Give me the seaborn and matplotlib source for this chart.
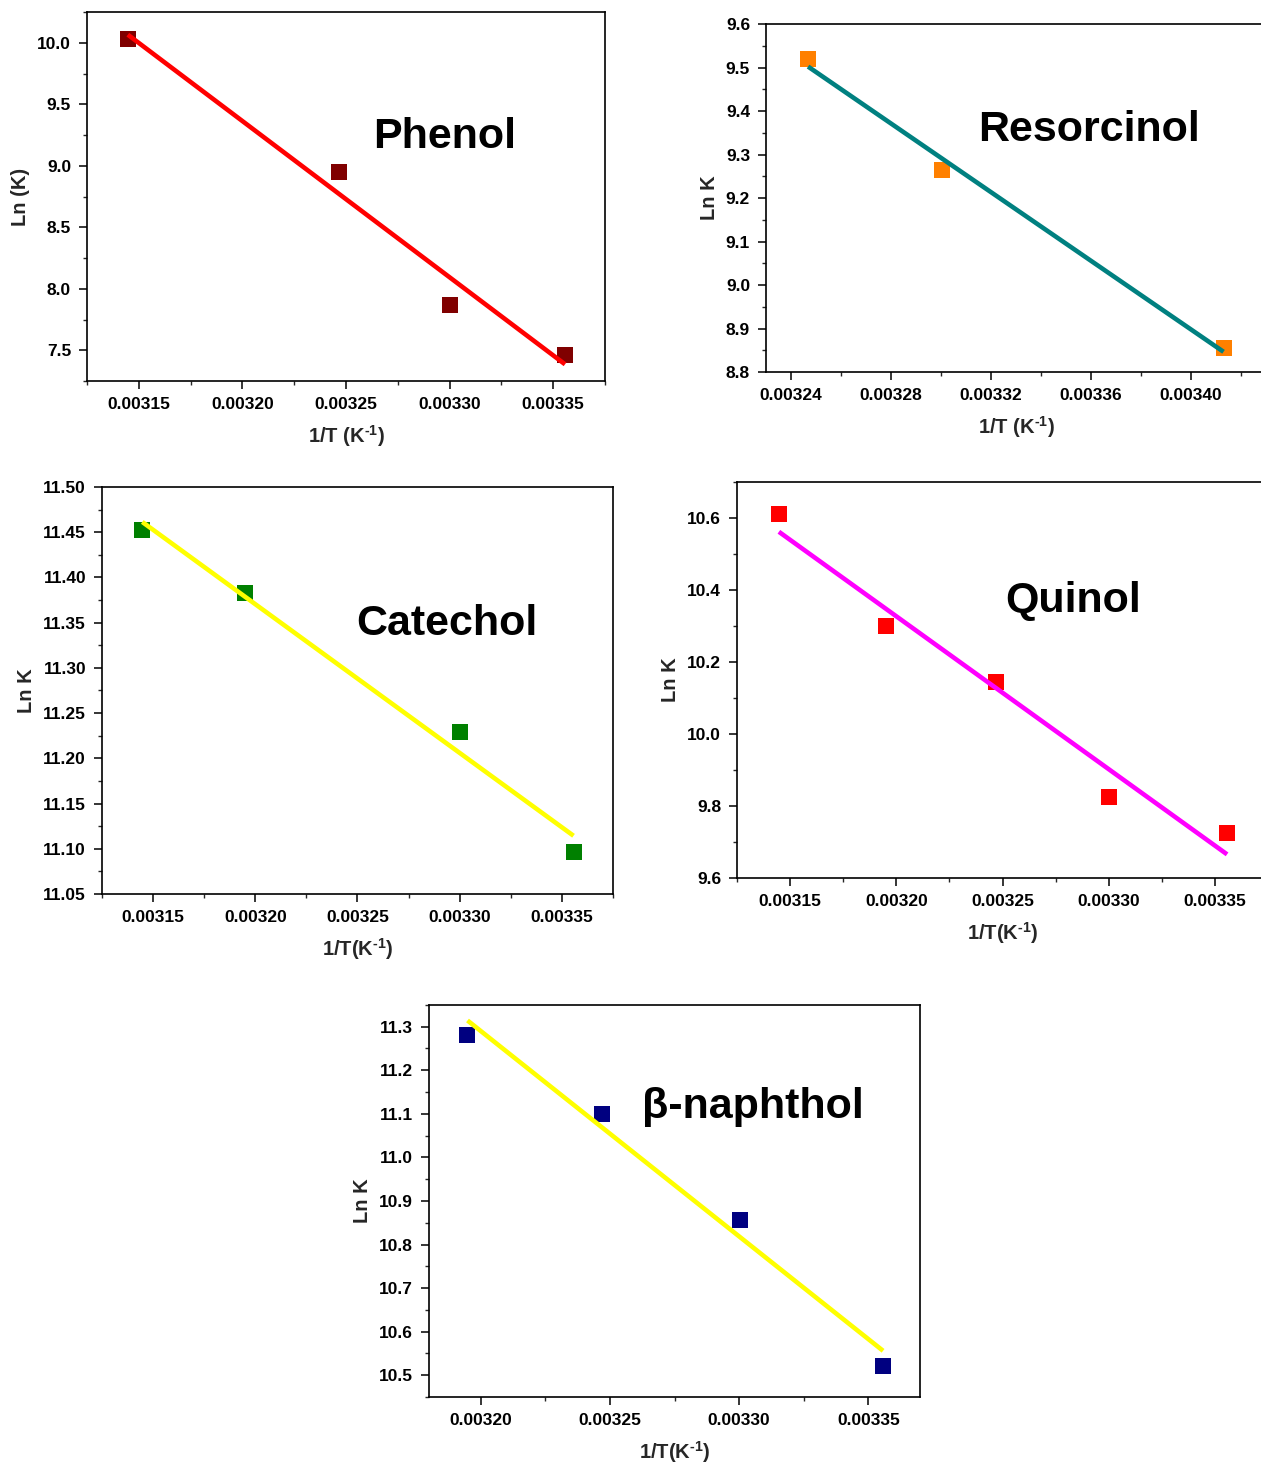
import numpy as np
import pandas as pd
import matplotlib
matplotlib.use("Agg")
import matplotlib.pyplot as plt
import seaborn as sns
from matplotlib.ticker import MultipleLocator, FormatStrFormatter

# ---------------- data (1/T in K^-1, ln K) ----------------
phenol_x = [0.0031447, 0.0032468, 0.0033003, 0.0033557]
phenol_y = [10.03, 8.95, 7.87, 7.46]

resorcinol_x = [0.0032468, 0.0033003, 0.0034130]
resorcinol_y = [9.52, 9.265, 8.855]

catechol_x = [0.0031447, 0.0031949, 0.0033003, 0.0033557]
catechol_y = [11.452, 11.383, 11.229, 11.096]

quinol_x = [0.0031447, 0.0031949, 0.0032468, 0.0033003, 0.0033557]
quinol_y = [10.61, 10.30, 10.145, 9.825, 9.725]

naphthol_x = [0.0031949, 0.0032468, 0.0033003, 0.0033557]
naphthol_y = [11.28, 11.10, 10.857, 10.52]

names = ["Phenol", "Resorcinol", "Catechol", "Quinol", "β-naphthol"]

# ---------------- style ----------------
sns.set_theme(style="ticks")
plt.rcParams["font.family"] = ["Liberation Sans", "DejaVu Sans"]
plt.rcParams["font.weight"] = "bold"
plt.rcParams["axes.labelweight"] = "bold"
plt.rcParams["mathtext.fontset"] = "custom"
plt.rcParams["mathtext.rm"] = "Liberation Sans:bold"
plt.rcParams["mathtext.it"] = "Liberation Sans:bold"
plt.rcParams["mathtext.bf"] = "Liberation Sans:bold"
plt.rcParams["mathtext.default"] = "rm"

fig = plt.figure(figsize=(12.61, 14.66), dpi=100)

xl_a = "1/T (K$^{\\text{-}1}$)"
xl_b = "1/T(K$^{\\text{-}1}$)"

panels = [
    dict(x=phenol_x, y=phenol_y, name=names[0],
         rect=[0.0690, 0.7401, 0.4108, 0.2517],
         mcol="#800000", lcol="#FF0000",
         xlim=(0.003125, 0.003375), xmaj=0.00005, xmin=0.000025, xfmt="%.5f",
         ylim=(7.25, 10.25), ymaj=0.5, ymin=0.25, yfmt="%.1f",
         ylabel="Ln (K)", xlabel=xl_a, txt=(0.552, 0.661)),
    dict(x=resorcinol_x, y=resorcinol_y, name=names[1],
         rect=[0.6075, 0.7462, 0.3965, 0.2374],
         mcol="#FF8000", lcol="#008080",
         xlim=(0.00323, 0.00343), xmaj=0.00004, xmin=0.00002, xfmt="%.5f",
         ylim=(8.8, 9.6), ymaj=0.1, ymin=0.05, yfmt="%.1f",
         ylabel="Ln K", xlabel=xl_a, txt=(0.424, 0.695)),
    dict(x=catechol_x, y=catechol_y, name=names[2],
         rect=[0.0809, 0.3902, 0.4052, 0.2776],
         mcol="#008000", lcol="#FFFF00",
         xlim=(0.003125, 0.003375), xmaj=0.00005, xmin=0.000025, xfmt="%.5f",
         ylim=(11.05, 11.50), ymaj=0.05, ymin=0.025, yfmt="%.2f",
         ylabel="Ln K", xlabel=xl_b, txt=(0.497, 0.663)),
    dict(x=quinol_x, y=quinol_y, name=names[3],
         rect=[0.5845, 0.4011, 0.4211, 0.2701],
         mcol="#FF0000", lcol="#FF00FF",
         xlim=(0.003125, 0.003375), xmaj=0.00005, xmin=0.000025, xfmt="%.5f",
         ylim=(9.6, 10.7), ymaj=0.2, ymin=0.1, yfmt="%.1f",
         ylabel="Ln K", xlabel=xl_b, txt=(0.505, 0.70)),
    dict(x=naphthol_x, y=naphthol_y, name=names[4],
         rect=[0.3402, 0.0471, 0.3894, 0.2674],
         mcol="#000080", lcol="#FFFF00",
         xlim=(0.00318, 0.00337), xmaj=0.00005, xmin=0.000025, xfmt="%.5f",
         ylim=(10.45, 11.35), ymaj=0.1, ymin=0.05, yfmt="%.1f",
         ylabel="Ln K", xlabel=xl_b, txt=(0.434, 0.74)),
]

for p in panels:
    ax = fig.add_axes(p["rect"])
    df = pd.DataFrame({"x": p["x"], "y": p["y"]})
    sns.regplot(data=df, x="x", y="y", ax=ax, ci=None, marker="s", truncate=True,
                scatter_kws=dict(s=125, color=p["mcol"], linewidths=0, alpha=1, zorder=2),
                line_kws=dict(color=p["lcol"], lw=3.3, zorder=3, solid_capstyle="butt"))
    ax.set_xlim(*p["xlim"])
    ax.set_ylim(*p["ylim"])
    ax.xaxis.set_major_locator(MultipleLocator(p["xmaj"]))
    ax.xaxis.set_minor_locator(MultipleLocator(p["xmin"]))
    ax.yaxis.set_major_locator(MultipleLocator(p["ymaj"]))
    ax.yaxis.set_minor_locator(MultipleLocator(p["ymin"]))
    ax.xaxis.set_major_formatter(FormatStrFormatter(p["xfmt"]))
    ax.yaxis.set_major_formatter(FormatStrFormatter(p["yfmt"]))
    ax.tick_params(which="major", direction="out", length=5.5, width=1.1,
                   labelsize=12.5, pad=6, colors="black")
    ax.tick_params(which="minor", direction="out", length=3, width=1.0)
    for lab in ax.get_xticklabels() + ax.get_yticklabels():
        lab.set_fontweight("bold")
    for s in ax.spines.values():
        s.set_visible(True)
        s.set_linewidth(1.2)
        s.set_color("black")
    ax.set_xlabel(p["xlabel"], fontsize=14.5, fontweight="bold", labelpad=8)
    ax.set_ylabel(p["ylabel"], fontsize=14.5, fontweight="bold", labelpad=5)
    ax.text(p["txt"][0], p["txt"][1], p["name"], transform=ax.transAxes,
            ha="left", va="center", fontsize=31, fontweight="bold", color="black")
    ax.set_facecolor("white")

fig.savefig("out.png", dpi=100, facecolor="white")
